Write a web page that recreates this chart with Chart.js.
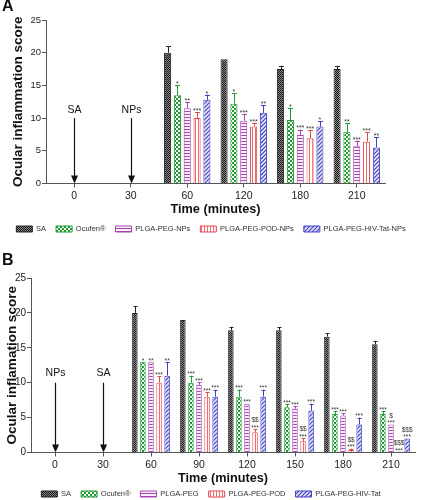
<!DOCTYPE html>
<html><head><meta charset="utf-8">
<script src="https://cdn.jsdelivr.net/npm/chart.js@4/dist/chart.umd.min.js"></script>
<style>
html,body{margin:0;padding:0;background:#fff}
body{width:422px;height:500px;overflow:hidden;position:relative;font-family:'Liberation Sans',Arial,sans-serif}
canvas{position:absolute;left:0}
#ca{top:0}
#cb{top:250px}
.lab{position:absolute;font-weight:bold;font-size:16px;left:2px;color:#111}
</style></head><body>
<canvas id="ca" width="422" height="246"></canvas>
<canvas id="cb" width="422" height="272"></canvas>
<div class="lab" style="top:-3px">A</div>
<div class="lab" style="top:251px">B</div>
<script>
// ---------------- Panel A data ----------------
const categoriesA = ['0','30','60','120','180','210'];
const namesA = ['SA','Ocufen®','PLGA-PEG-NPs','PLGA-PEG-POD-NPs','PLGA-PEG-HIV-Tat-NPs'];
const arrowsA = ['SA','NPs','','','',''];
const saA      = [null,null,20,19,17.5,17.5];
const ocufenA  = [null,null,13.5,12.2,9.7,7.9];
const pegA     = [null,null,11.5,9.6,7.4,5.7];
const podA     = [null,null,10,8.7,6.9,6.4];
const tatA     = [null,null,12.8,10.8,8.7,5.5];
const saErrA     = [null,null,1,0,0.5,0.5];
const ocufenErrA = [null,null,1.5,1.6,1.9,1.35];
const pegErrA    = [null,null,1.0,1.0,0.85,0.85];
const podErrA    = [null,null,0.95,0.5,1.25,1.4];
const tatErrA    = [null,null,0.8,1.2,0.8,1.6];
const saSigA     = ['','','','','',''];
const ocufenSigA = ['','','*','*','*','**'];
const pegSigA    = ['','','**','***','***','***'];
const podSigA    = ['','','***','***','***','***'];
const tatSigA    = ['','','*','**','*','**'];

// ---------------- Panel B data ----------------
const categoriesB = ['0','30','60','90','120','150','180','210'];
const namesB = ['SA','Ocufen®','PLGA-PEG','PLGA-PEG-POD','PLGA-PEG-HIV-Tat'];
const arrowsB = ['NPs','SA','','','','','',''];
const saB      = [null,null,20,19,17.5,17.5,16.6,15.5];
const ocufenB  = [null,null,13,10,8,6.5,5.5,5.5];
const pegB     = [null,null,13,9.7,7,6.3,5.3,4];
const podB     = [null,null,10,8,2.9,1.6,0.35,0];
const tatB     = [null,null,11,8,8,6,4,2];
const saErrB     = [null,null,1,0,0.5,0.45,0.45,0.5];
const ocufenErrB = [null,null,0,1,1,0.45,0.45,0.45];
const pegErrB    = [null,null,0,0.35,0,0.3,0.3,0];
const podErrB    = [null,null,0.9,0.6,0.45,0.42,0.2,0];
const tatErrB    = [null,null,2,1,1,1,1,0];
const saSigB     = ['','','','','','','',''];
const ocufenSigB = ['','','*','***','***','***','***','***'];
const pegSigB    = ['','','**','***','***','***','***','$\n***'];
const podSigB    = ['','','***','***','$$\n***','$$\n***','$$\n***','$$$\n***'];
const tatSigB    = ['','','**','***','***','***','***','$$$\n***'];

Chart.defaults.font.family = "'Liberation Sans', Arial, Helvetica, sans-serif";
Chart.defaults.color = '#222';

function makePattern(target, kind, fg, bg){
  const c = document.createElement('canvas');
  const x = c.getContext('2d');
  if(kind==='checker'){
    c.width=c.height=2; x.fillStyle=bg; x.fillRect(0,0,2,2);
    x.fillStyle=fg; x.fillRect(0,0,1,1); x.fillRect(1,1,1,1);
  } else if(kind==='dots'){
    c.width=c.height=4; x.fillStyle=fg; x.fillRect(0,0,4,4);
    x.fillStyle=bg; x.fillRect(0,0,2,2); x.fillRect(2,2,2,2);
  } else if(kind==='hlines'){
    c.width=1; c.height=3; x.fillStyle=bg; x.fillRect(0,0,1,3);
    x.fillStyle=fg; x.fillRect(0,0,1,1);
  } else if(kind==='vlines'){
    c.width=3; c.height=1; x.fillStyle=bg; x.fillRect(0,0,3,1);
    x.fillStyle=fg; x.fillRect(0,0,1,1);
  } else {
    c.width=c.height=4; x.fillStyle=bg; x.fillRect(0,0,4,4);
    x.strokeStyle=fg; x.lineWidth=1.1;
    x.beginPath(); x.moveTo(0,4); x.lineTo(4,0); x.moveTo(-1,1); x.lineTo(1,-1); x.moveTo(3,5); x.lineTo(5,3); x.stroke();
  }
  return target.getContext('2d').createPattern(c,'repeat');
}

const COLORS = {
  sa:'#222222', oc:'#1f9a30', peg:'#a646ad', pod:'#e5484d', tat:'#4040c4'
};

const annotPlugin = {
  id:'annot',
  afterLayout(chart, args, opts){
    const lg = chart.legend;
    if(lg && opts.legendCenter!=null){
      const p = lg.options.labels.padding;
      const ih = Math.max(lg.options.labels.font.size, lg.options.labels.boxHeight);
      const dy = opts.legendCenter - (lg.top + p + ih/2);
      lg.top += dy; lg.bottom += dy;
    }
  },
  afterDatasetsDraw(chart, args, opts){
    const ctx = chart.ctx, xs = chart.scales.x, ys = chart.scales.y;
    ctx.save();
    // arrows
    opts.arrows.forEach((lab,i)=>{
      if(!lab) return;
      const px = Math.round(xs.getPixelForValue(i)) + 0.5;
      const top = ys.getPixelForValue(opts.arrowTop);
      const bot = ys.getPixelForValue(0);
      ctx.strokeStyle='#111'; ctx.fillStyle='#111'; ctx.lineWidth=1.2;
      ctx.beginPath(); ctx.moveTo(px, top); ctx.lineTo(px, bot-6); ctx.stroke();
      ctx.beginPath(); ctx.moveTo(px-3.5, bot-8); ctx.lineTo(px+3.5, bot-8); ctx.lineTo(px, bot); ctx.closePath(); ctx.fill();
      ctx.font = opts.arrowFont + "px 'Liberation Sans', Arial, sans-serif";
      ctx.textAlign='center'; ctx.textBaseline='middle';
      ctx.fillText(lab, px, top - opts.arrowGap);
    });
    // error bars + significance
    chart.data.datasets.forEach((ds,di)=>{
      const meta = chart.getDatasetMeta(di);
      meta.data.forEach((bar,i)=>{
        const v = ds.data[i];
        if(v==null) return;
        const e = ds.errors[i] || 0;
        const yTop = ys.getPixelForValue(v + e);
        const yBar = ys.getPixelForValue(v);
        if(e>0){
          ctx.strokeStyle = ds.errColor; ctx.lineWidth = 1;
          const cx = Math.round(bar.x)+0.5;
          ctx.beginPath(); ctx.moveTo(cx, yBar); ctx.lineTo(cx, yTop);
          const hw = Math.max(2, bar.width*0.35);
          ctx.moveTo(cx-hw, Math.round(yTop)+0.5); ctx.lineTo(cx+hw, Math.round(yTop)+0.5);
          ctx.stroke();
        }
        const s = ds.sig[i];
        if(s){
          const lines = s.split('\n');
          ctx.fillStyle='#333';
          ctx.font = opts.sigFont + "px 'Liberation Sans', Arial, sans-serif";
          ctx.textAlign='center'; ctx.textBaseline='alphabetic';
          let y = Math.min(yTop, yBar) - 1.5;
          for(let k=lines.length-1;k>=0;k--){
            const t = lines[k];
            const isStar = t.indexOf('*')>=0;
            ctx.fillText(t, bar.x, isStar ? y + opts.sigFont*0.35 : y);
            y -= opts.sigFont*0.85;
          }
        }
      });
    });
    ctx.restore();
  }
};

function buildChart(canvas, cfg){
  const P = (k,f,b)=>makePattern(canvas,k,f,b);
  const mk = (label, data, errs, sig, bg, border, errColor)=>({
    label, data, errors:errs, sig, backgroundColor:bg, borderColor:border, borderWidth:1, errColor,
    categoryPercentage:cfg.catPct, barPercentage:cfg.barPct, borderSkipped:'bottom'
  });
  const ds = [
    mk(cfg.names[0], cfg.series[0], cfg.errs[0], cfg.sigs[0], P('checker','#151515','#8c8c8c'), '#222', '#222'),
    mk(cfg.names[1], cfg.series[1], cfg.errs[1], cfg.sigs[1], P('dots',COLORS.oc,'#ffffff'), COLORS.oc, COLORS.oc),
    mk(cfg.names[2], cfg.series[2], cfg.errs[2], cfg.sigs[2], P('hlines',COLORS.peg,'#fbf0fb'), COLORS.peg, COLORS.peg),
    mk(cfg.names[3], cfg.series[3], cfg.errs[3], cfg.sigs[3], P('vlines','#ec6a6e','#ffffff'), COLORS.pod, COLORS.pod),
    mk(cfg.names[4], cfg.series[4], cfg.errs[4], cfg.sigs[4], P('diag',COLORS.tat,'#e3e3f7'), COLORS.tat, COLORS.tat)
  ];
  return new Chart(canvas, {
    type:'bar',
    data:{labels:cfg.categories, datasets:ds},
    plugins:[annotPlugin],
    options:{
      responsive:false, animation:false, devicePixelRatio:1,
      layout:{padding:{top:cfg.padTop, bottom:cfg.padBottom, left:0, right:0}},
      plugins:{
        tooltip:{enabled:false},
        legend:{
          position:'bottom',
          labels:{boxWidth:16, boxHeight:6, padding:cfg.legendPad, color:'#333',
            font:{size:cfg.legendFont}}
        },
        annot:{arrows:cfg.arrows, arrowTop:10, arrowGap:cfg.arrowGap, arrowFont:10.5,
          sigFont:cfg.sigFont, legendCenter:cfg.legendCenter}
      },
      scales:{
        x:{
          offset:true,
          grid:{display:true, drawOnChartArea:false, offset:false, tickLength:4, color:'#555'},
          border:{display:true, color:'#555', width:1},
          ticks:{font:{size:10.5}, color:'#222', padding:2, maxRotation:0, autoSkip:false},
          title:{display:true, text:'Time (minutes)', font:{size:12.7, weight:'bold'}, color:'#111', padding:{top:0,bottom:0}},
          afterFit(s){ s.height = cfg.xHeight; }
        },
        y:{
          min:0, max:25,
          grid:{display:true, drawOnChartArea:false, tickLength:4, color:'#555'},
          border:{display:true, color:'#555', width:1},
          ticks:{stepSize:5, font:{size:cfg.yTickFont}, color:'#222', padding:1},
          title:{display:true, text:cfg.yTitle, font:{size:cfg.yTitleFont, weight:'bold'}, color:'#111', padding:{top:cfg.yTitlePad,bottom:0}},
          afterFit(s){ s.width = cfg.yWidth; }
        },
        yR:{
          position:'right', display:true,
          grid:{display:false}, border:{display:false}, ticks:{display:false},
          afterFit(s){ s.width = cfg.rightWidth; }
        }
      }
    }
  });
}

buildChart(document.getElementById('ca'), {
  categories:categoriesA, names:namesA, arrows:arrowsA,
  series:[saA,ocufenA,pegA,podA,tatA],
  errs:[saErrA,ocufenErrA,pegErrA,podErrA,tatErrA],
  sigs:[saSigA,ocufenSigA,pegSigA,podSigA,tatSigA],
  catPct:0.87, barPct:0.72, padTop:20, padBottom:1, legendPad:10, legendFont:7.5,
  legendCenter:229, xHeight:34, yWidth:46, rightWidth:37,
  yTitle:'Ocular inflammation score', yTitleFont:13.5, yTitlePad:10, yTickFont:9.5,
  arrowGap:8, sigFont:7
});

buildChart(document.getElementById('cb'), {
  categories:categoriesB, names:namesB, arrows:arrowsB,
  series:[saB,ocufenB,pegB,podB,tatB],
  errs:[saErrB,ocufenErrB,pegErrB,podErrB,tatErrB],
  sigs:[saSigB,ocufenSigB,pegSigB,podSigB,tatSigB],
  catPct:0.84, barPct:0.68, padTop:28, padBottom:8, legendPad:10, legendFont:7.5,
  legendCenter:244, xHeight:34, yWidth:31, rightWidth:7,
  yTitle:'Ocular inflamation score', yTitleFont:13.5, yTitlePad:4, yTickFont:10,
  arrowGap:10, sigFont:6.5
});
</script>
</body></html>
